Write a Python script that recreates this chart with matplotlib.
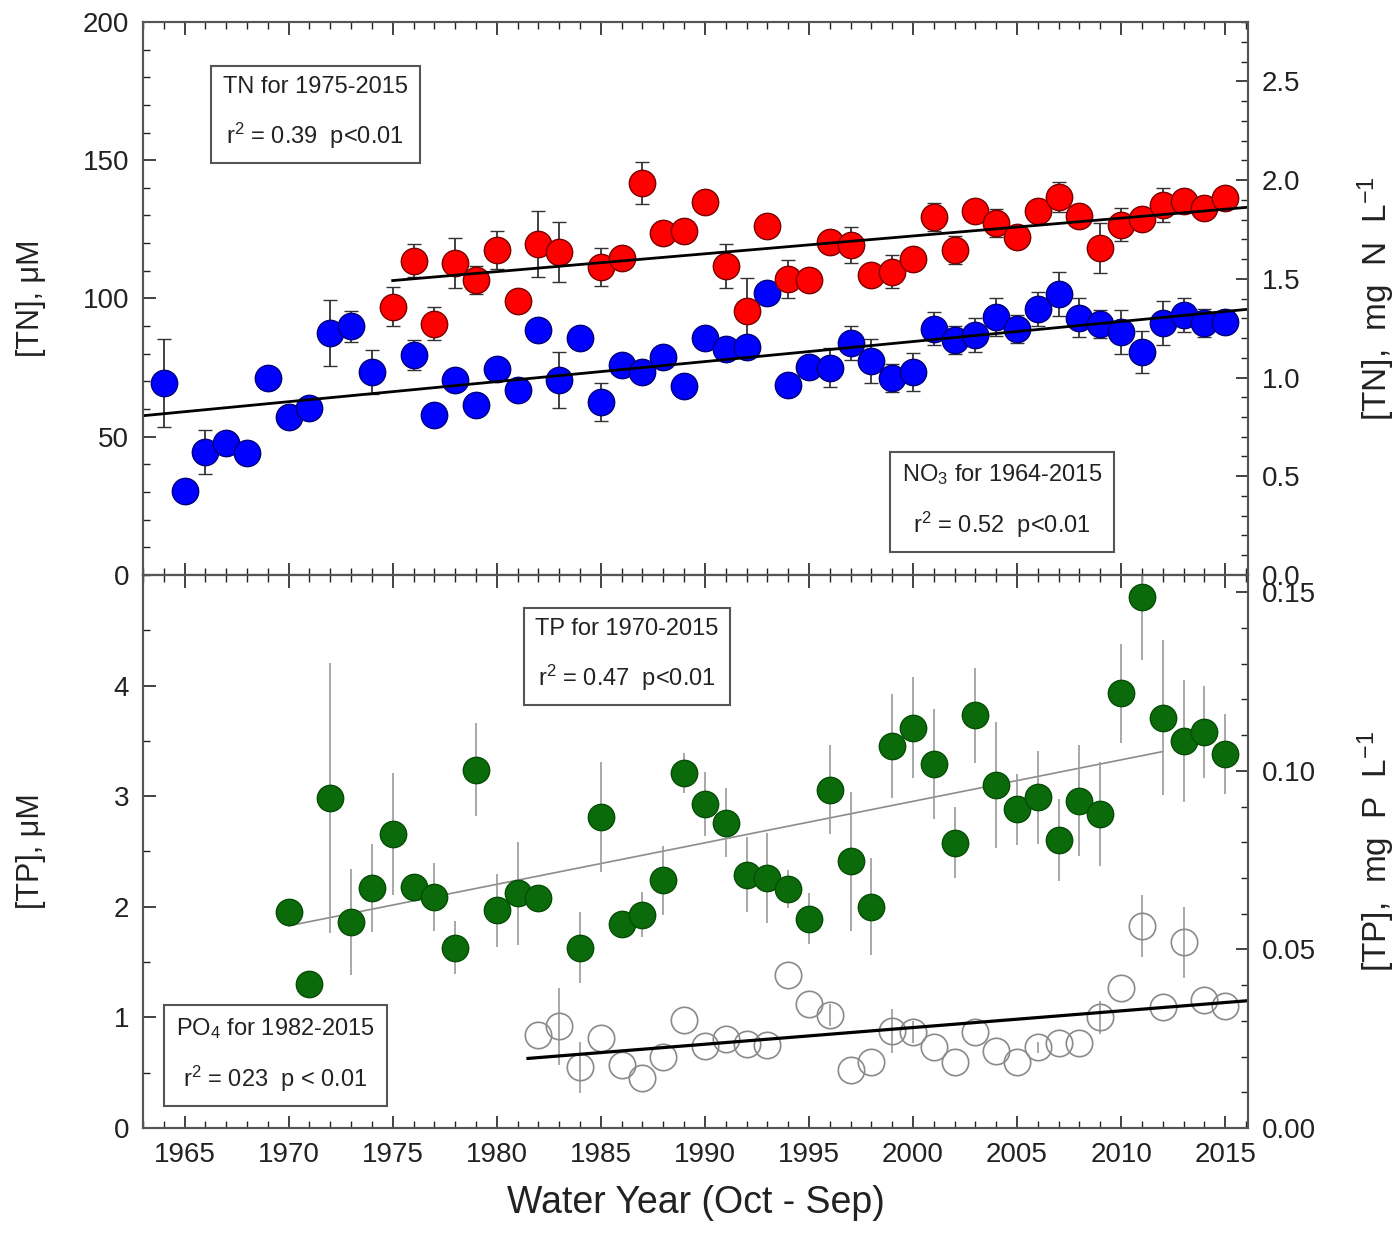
import numpy as np
import matplotlib
matplotlib.use("Agg")
import matplotlib.pyplot as plt
from matplotlib.ticker import MultipleLocator, FormatStrFormatter

plt.rcParams['font.family'] = ['Liberation Sans', 'DejaVu Sans']
plt.rcParams['mathtext.fontset'] = 'custom'
plt.rcParams['mathtext.rm'] = 'Liberation Sans'
plt.rcParams['mathtext.it'] = 'Liberation Sans:italic'
plt.rcParams['mathtext.default'] = 'regular'

# --- NO3 (blue), uM, 1964-2015 (no 1975)
no3_years = [1964, 1965, 1966, 1967, 1968, 1969, 1970, 1971, 1972, 1973, 1974,
             1976, 1977, 1978, 1979, 1980, 1981, 1982, 1983, 1984, 1985, 1986,
             1987, 1988, 1989, 1990, 1991, 1992, 1993, 1994, 1995, 1996, 1997,
             1998, 1999, 2000, 2001, 2002, 2003, 2004, 2005, 2006, 2007, 2008,
             2009, 2010, 2011, 2012, 2013, 2014, 2015]
no3_vals = [69.4, 30.4, 44.5, 47.7, 44.0, 71.2, 57.0, 60.4, 87.5, 90.0, 73.4,
            79.6, 57.7, 70.5, 61.3, 74.3, 66.9, 88.6, 70.5, 85.7, 62.5, 76.0,
            73.4, 78.8, 68.4, 85.7, 81.7, 82.5, 102.0, 68.7, 75.2, 74.9, 83.9,
            77.4, 71.2, 73.4, 89.0, 85.0, 86.8, 93.3, 89.0, 96.2, 101.6, 93.0,
            90.8, 87.9, 80.6, 91.1, 94.0, 91.1, 91.5]
no3_err = [16, 2, 8, 4, 2, 2, 2, 2, 12, 5.6, 8,
           5.5, 3, 2, 2, 2, 2, 2, 10, 2, 7, 2,
           2, 2, 2, 2, 2, 2, 2, 2, 2, 7, 6,
           8, 5, 7, 6, 5, 6, 7, 5, 6, 8, 7,
           5, 8, 7.5, 8, 6, 5, 4]

# --- TN (red), uM, 1975-2015 (no 1984)
tn_years = [1975, 1976, 1977, 1978, 1979, 1980, 1981, 1982, 1983, 1985, 1986,
            1987, 1988, 1989, 1990, 1991, 1992, 1993, 1994, 1995, 1996, 1997,
            1998, 1999, 2000, 2001, 2002, 2003, 2004, 2005, 2006, 2007, 2008,
            2009, 2010, 2011, 2012, 2013, 2014, 2015]
tn_vals = [97.0, 113.6, 90.8, 112.8, 106.7, 117.5, 99.0, 119.7, 116.8, 111.4, 114.6,
           141.8, 123.7, 124.4, 134.9, 111.8, 95.5, 126.2, 107.0, 106.5, 120.4, 119.3,
           108.5, 109.6, 114.3, 129.5, 117.5, 131.6, 127.3, 122.2, 131.6, 136.7, 129.8,
           118.3, 126.6, 128.7, 133.8, 135.3, 132.7, 136.3]
tn_err = [7, 6, 6, 9, 5, 7, 3, 12, 11, 7, 3,
          7.5, 4, 3, 3, 8, 12, 3, 7, 3, 3, 6.5,
          3, 6, 3, 5, 5, 3, 5, 3, 4, 5.5, 3,
          9, 6, 3, 6, 3, 4, 3]

# --- TP (green), uM, 1970-2015 (no 1983)
tp_years = [1970, 1971, 1972, 1973, 1974, 1975, 1976, 1977, 1978, 1979, 1980,
            1981, 1982, 1984, 1985, 1986, 1987, 1988, 1989, 1990, 1991, 1992,
            1993, 1994, 1995, 1996, 1997, 1998, 1999, 2000, 2001, 2002, 2003,
            2004, 2005, 2006, 2007, 2008, 2009, 2010, 2011, 2012, 2013, 2014, 2015]
tp_vals = [1.95, 1.30, 2.98, 1.86, 2.17, 2.66, 2.18, 2.09, 1.63, 3.24, 1.97,
           2.12, 2.08, 1.63, 2.81, 1.84, 1.93, 2.24, 3.21, 2.93, 2.76, 2.29,
           2.26, 2.16, 1.89, 3.06, 2.41, 2.00, 3.45, 3.62, 3.29, 2.58, 3.73,
           3.10, 2.88, 2.99, 2.60, 2.96, 2.84, 3.93, 4.80, 3.71, 3.50, 3.58, 3.38]
tp_err = [0.05, 0.05, 1.22, 0.48, 0.40, 0.55, 0.05, 0.31, 0.24, 0.42, 0.33,
          0.47, 0.05, 0.32, 0.50, 0.05, 0.20, 0.31, 0.18, 0.29, 0.31, 0.34,
          0.41, 0.17, 0.23, 0.40, 0.63, 0.44, 0.47, 0.46, 0.50, 0.32, 0.43,
          0.57, 0.32, 0.42, 0.37, 0.50, 0.47, 0.45, 0.57, 0.70, 0.55, 0.42, 0.36]

# --- PO4 (open circles), uM, 1982-2015
po4_years = list(range(1982, 2016))
po4_vals = [0.84, 0.92, 0.55, 0.81, 0.57, 0.45, 0.64, 0.98, 0.74, 0.80, 0.76, 0.75,
            1.38, 1.12, 1.02, 0.52, 0.60, 0.88, 0.87, 0.73, 0.60, 0.87, 0.70, 0.60,
            0.73, 0.77, 0.77, 1.00, 1.27, 1.83, 1.09, 1.68, 1.16, 1.10]
po4_err = [0, 0.35, 0.23, 0, 0, 0, 0, 0, 0, 0, 0, 0,
           0, 0, 0.10, 0, 0, 0.20, 0.10, 0, 0, 0, 0, 0,
           0.05, 0, 0, 0.15, 0, 0.28, 0, 0.32, 0, 0]

# extent of the drawn trend lines (years)
no3_fit_span = (1963, 2016.1)
tn_fit_span = (1975, 2016.1)
tp_fit_span = (1970, 2012)
po4_fit_span = (1981.5, 2016.1)

N_MG = 14.007 / 1000.0   # uM -> mg N/L
P_MG = 30.974 / 1000.0   # uM -> mg P/L


def trend(ax, x, y, span, **kw):
    k, b = np.polyfit(x, y, 1)
    xs = np.array(span)
    ax.plot(xs, k * xs + b, **kw)


fig = plt.figure(figsize=(13.99, 12.45), dpi=100)
ax1 = fig.add_axes([0.1022, 0.5382, 0.7899, 0.4442])
ax2 = fig.add_axes([0.1022, 0.0940, 0.7899, 0.4442], sharex=ax1)

tick_col = '#222222'
spine_col = '#555555'
MS = 19

# top panel: TN and NO3
ax1.errorbar(no3_years, no3_vals, yerr=no3_err, fmt='o', ms=MS, mfc='#0000ff',
             mec='#00007a', mew=1.0, ecolor='#333333', elinewidth=1.3,
             capsize=5, capthick=1.3, zorder=3)
ax1.errorbar(tn_years, tn_vals, yerr=tn_err, fmt='o', ms=MS, mfc='#ff0000',
             mec='#7a0000', mew=1.0, ecolor='#333333', elinewidth=1.3,
             capsize=5, capthick=1.3, zorder=3)
trend(ax1, no3_years, no3_vals, no3_fit_span, color='black', lw=2, zorder=5)
trend(ax1, tn_years, tn_vals, tn_fit_span, color='black', lw=2, zorder=5)

# bottom panel: TP and PO4
ax2.errorbar(tp_years, tp_vals, yerr=tp_err, fmt='o', ms=MS, mfc='#0b6b0b',
             mec='#054d05', mew=1.0, ecolor='#9a9a9a', elinewidth=1.2,
             capsize=0, zorder=3)
ax2.errorbar(po4_years, po4_vals, yerr=po4_err, fmt='o', ms=MS, mfc='none',
             mec='#8a8a8a', mew=1.2, ecolor='#9a9a9a', elinewidth=1.2,
             capsize=0, zorder=3)
trend(ax2, tp_years, tp_vals, tp_fit_span, color='#8c8c8c', lw=1.2, zorder=2)
trend(ax2, po4_years, po4_vals, po4_fit_span, color='black', lw=2.3, zorder=5)

ax1.set_xlim(1963, 2016.1)
ax1.set_ylim(0, 200)
ax2.set_ylim(0, 5)

ax1.set_yticks([0, 50, 100, 150, 200])
ax1.yaxis.set_minor_locator(MultipleLocator(10))
ax2.set_yticks([0, 1, 2, 3, 4])
ax2.yaxis.set_minor_locator(MultipleLocator(0.5))
ax2.xaxis.set_major_locator(MultipleLocator(5))
ax2.xaxis.set_minor_locator(MultipleLocator(1))

# right-hand unit axes
r1 = ax1.twinx()
r1.set_ylim(0, 200 * N_MG)
r1.yaxis.set_major_locator(MultipleLocator(0.5))
r1.yaxis.set_minor_locator(MultipleLocator(0.1))
r1.yaxis.set_major_formatter(FormatStrFormatter('%.1f'))
r2 = ax2.twinx()
r2.set_ylim(0, 5 * P_MG)
r2.yaxis.set_major_locator(MultipleLocator(0.05))
r2.yaxis.set_minor_locator(MultipleLocator(0.01))
r2.yaxis.set_major_formatter(FormatStrFormatter('%.2f'))

for a in (ax1, ax2):
    a.tick_params(which='both', direction='in', top=True, right=False,
                  colors=tick_col, labelsize=20, pad=10)
    a.tick_params(which='major', length=9, width=1.2)
    a.tick_params(which='minor', length=5, width=1.0)
for a in (r1, r2):
    a.tick_params(which='both', direction='in', colors=tick_col, labelsize=20, pad=10)
    a.tick_params(which='major', length=9, width=1.2)
    a.tick_params(which='minor', length=5, width=1.0)
for a in (ax1, ax2, r1, r2):
    for s in a.spines.values():
        s.set_color(spine_col)
        s.set_linewidth(1.5)
ax1.tick_params(labelbottom=False)

ax1.set_ylabel('[TN], μM', fontsize=22, color=tick_col)
ax2.set_ylabel('[TP], μM', fontsize=22, color=tick_col)
r1.set_ylabel('[TN],  mg  N  L$^{-1}$', fontsize=24, color=tick_col)
r2.set_ylabel('[TP],  mg  P  L$^{-1}$', fontsize=24, color=tick_col)
for a in (ax1, ax2):
    a.yaxis.set_label_coords(-0.088, 0.5)
for a in (r1, r2):
    a.yaxis.set_label_coords(1.097, 0.5)
ax2.set_xlabel('Water Year (Oct - Sep)', fontsize=27, color=tick_col, labelpad=12)

box = dict(boxstyle='square,pad=0.5', fc='white', ec='#555555', lw=1.5)
txt = dict(ha='center', va='center', fontsize=17, color=tick_col,
           linespacing=2.0, bbox=box, zorder=6)
ax1.text(0.156, 0.835, 'TN for 1975-2015\nr$^{2}$ = 0.39  p<0.01',
         transform=ax1.transAxes, **txt)
ax1.text(0.777, 0.133, 'NO$_{3}$ for 1964-2015\nr$^{2}$ = 0.52  p<0.01',
         transform=ax1.transAxes, **txt)
ax2.text(0.438, 0.854, 'TP for 1970-2015\nr$^{2}$ = 0.47  p<0.01',
         transform=ax2.transAxes, **txt)
ax2.text(0.120, 0.132, 'PO$_{4}$ for 1982-2015\nr$^{2}$ = 023  p < 0.01',
         transform=ax2.transAxes, **txt)

fig.savefig('out.png', dpi=100)
